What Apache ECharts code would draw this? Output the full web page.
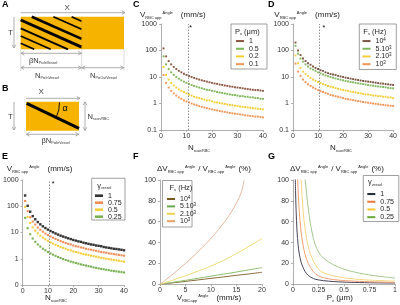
<!DOCTYPE html>
<html>
<head>
<meta charset="utf-8">
<script src="https://cdn.jsdelivr.net/npm/echarts@6/dist/echarts.min.js"></script>
<style>
  html, body { margin: 0; padding: 0; background: #fff; }
  #chart { width: 400px; height: 305px; }
</style>
</head>
<body>
<div id="chart"></div>
<script>
// --- data ---
const nScan = [1,2,3,4,5,6,7,8,9,10,11,12,13,14,15,16,17,18,19,20,21,22,23,24,25,26,27,28,29,30,31,32,33,34,35,36,37,38,39,40]

// panel C : pixel size
const cP1 = [120,60,40,30,24,20,17.1,15,13.3,12,10.9,10,9.2,8.6,8,7.5,7.1,6.7,6.3,6,5.7,5.5,5.2,5,4.8,4.6,4.4,4.3,4.1,4,3.9,3.75,3.6,3.5,3.4,3.3,3.2,3.2,3.1,3]
const cP05 = [60,30,20,15,12,10,8.6,7.5,6.7,6,5.5,5,4.6,4.3,4,3.75,3.5,3.3,3.2,3,2.9,2.7,2.6,2.5,2.4,2.3,2.2,2.1,2.1,2,1.9,1.9,1.8,1.8,1.7,1.7,1.6,1.6,1.5,1.5]
const cP02 = [24,12,8,6,4.8,4,3.4,3,2.7,2.4,2.2,2,1.8,1.7,1.6,1.5,1.4,1.3,1.3,1.2,1.1,1.1,1.04,1,0.96,0.92,0.89,0.86,0.83,0.8,0.77,0.75,0.73,0.71,0.69,0.67,0.65,0.63,0.62,0.6]
const cP01 = [12,6,4,3,2.4,2,1.7,1.5,1.3,1.2,1.1,1,0.92,0.86,0.8,0.75,0.71,0.67,0.63,0.6,0.57,0.55,0.52,0.5,0.48,0.46,0.44,0.43,0.41,0.4,0.39,0.38,0.36,0.35,0.34,0.33,0.32,0.32,0.31,0.3]

// panel D : scan frequency
const dF1e4 = [200,100,67,50,40,33,29,25,22,20,18,17,15,14,13,12.5,12,11,10.5,10,9.5,9.1,8.7,8.3,8,7.7,7.4,7.1,6.9,6.7,6.5,6.3,6.1,5.9,5.7,5.6,5.4,5.3,5.1,5]
const dF5e3 = [150,75,50,38,30,25,21,19,17,15,13.6,12.5,11.5,10.7,10,9.4,8.8,8.3,7.9,7.5,7.1,6.8,6.5,6.3,6,5.8,5.6,5.4,5.2,5,4.8,4.7,4.5,4.4,4.3,4.2,4.1,3.9,3.8,3.75]
const dF2e3 = [65,33,22,16,13,11,9.3,8.1,7.2,6.5,5.9,5.4,5,4.6,4.3,4.1,3.8,3.6,3.4,3.25,3.1,3,2.8,2.7,2.6,2.5,2.4,2.3,2.2,2.2,2.1,2,2,1.9,1.9,1.8,1.8,1.7,1.7,1.6]
const dF1e3 = [32,16,11,8,6.4,5.3,4.6,4,3.6,3.2,2.9,2.7,2.5,2.3,2.1,2,1.9,1.8,1.7,1.6,1.5,1.45,1.4,1.33,1.28,1.23,1.19,1.14,1.1,1.07,1.03,1,0.97,0.94,0.91,0.89,0.86,0.84,0.82,0.8]

// panel E : vessel fraction
const eG1 = [257,104,62,42,32,25,20.5,17.2,14.8,12.9,11.4,10.2,9.2,8.3,7.6,7,6.5,6,5.6,5.2,4.9,4.6,4.4,4.1,3.9,3.7,3.5,3.4,3.2,3.1,3,2.8,2.7,2.6,2.5,2.4,2.35,2.27,2.2,2.1]
const eG075 = [159,65,38,26,20,15.5,12.7,10.7,9.1,8,7,6.3,5.7,5.2,4.7,4.3,4,3.7,3.5,3.2,3,2.9,2.7,2.6,2.4,2.3,2.2,2.1,2,1.9,1.8,1.75,1.7,1.6,1.56,1.5,1.45,1.4,1.36,1.31]
const eG05 = [95,39,23,15.7,11.7,9.3,7.6,6.4,5.5,4.8,4.2,3.8,3.4,3.1,2.8,2.6,2.4,2.2,2.1,1.9,1.8,1.7,1.6,1.5,1.45,1.38,1.31,1.25,1.2,1.14,1.09,1.05,1,0.97,0.93,0.9,0.87,0.84,0.81,0.78]
const eG025 = [36,14.6,8.6,5.9,4.4,3.5,2.9,2.4,2.1,1.8,1.6,1.43,1.29,1.17,1.07,0.98,0.9,0.84,0.78,0.73,0.69,0.65,0.61,0.58,0.55,0.52,0.5,0.47,0.45,0.43,0.41,0.4,0.38,0.37,0.35,0.34,0.33,0.32,0.31,0.3]

// panel F : relative error vs velocity
const fV = [0,2.5,5,7.5,10,12.5,15,17.5,20]
const fF1e4 = [0,1.4,2.8,4.2,5.7,7.1,8.6,10,11.5]
const fF5e3 = [0,1.9,3.8,5.8,7.8,9.8,11.8,13.9,16]
const fF2e3 = [0,4,8.3,12.7,17.5,23,29.5,36.5,44]
const fV1e3 = [0,1,2,3,4,5,6,7,8,9,10,11,12,13,14,15,16,16.5]
const fF1e3 = [0,3.8,7.7,11.7,15.8,20,24.4,29,33.8,38.8,44,49.7,55.7,62.2,69.5,78,89,100]

// panel G : relative error vs pixel size
const gP = [0.02,0.025,0.03,0.04,0.05,0.06,0.08,0.1,0.12,0.15,0.2,0.25,0.3,0.4,0.5,0.6,0.7,0.8,0.9,1]
const gG1 = [115,90,72,50,38,30,21,16,12,8.5,5.5,4.2,3.5,2.6,2.1,1.8,1.6,1.4,1.3,1.2]
const gG075 = [250,200,160,115,90,72,50,37,28,20,12,8,6.3,4.5,3.6,3,2.6,2.3,2.1,1.9]
const gG05 = [500,400,330,240,185,150,100,70,52,36,22,14.5,11,8,6.2,5.1,4.3,3.8,3.4,3]
const gG025 = [600,480,400,300,240,200,150,120,100,72,44,31,25,18.5,14.5,11.8,9.8,8.3,7,6]

const FONT = "'Liberation Sans', Arial, sans-serif"
const NARROW = "'Liberation Sans Narrow', 'Liberation Sans', Arial, sans-serif"
const ORANGE_BOX = '#f6b400'
const GREY = '#9a9a9a'

const chart = echarts.init(document.getElementById('chart'), null, { renderer: 'canvas' })

// --- axes ---
function xAx(gi, max, interval) {
  return {
    type: 'value', gridIndex: gi, min: 0, max: max, interval: interval,
    axisLine: { show: true, onZero: false, lineStyle: { color: GREY, width: 0.8 } },
    axisTick: { show: true, length: 2, lineStyle: { color: GREY, width: 0.8 } },
    splitLine: { show: false },
    axisLabel: { fontSize: 7, color: '#333', margin: 2.5, fontFamily: NARROW }
  }
}
function yLog(gi, fmt) {
  return {
    type: 'log', logBase: 10, gridIndex: gi, min: 0.1, max: 1000,
    axisLine: { show: true, onZero: false, lineStyle: { color: GREY, width: 0.8 } },
    axisTick: { show: true, length: 2, lineStyle: { color: GREY, width: 0.8 } },
    splitLine: { show: false },
    axisLabel: {
      fontSize: 7, color: '#333', margin: 4, fontFamily: NARROW,
      formatter: fmt || (v => (v < 0.5 ? '0.1' : String(Math.round(v))))
    }
  }
}
function yLin(gi) {
  return {
    type: 'value', gridIndex: gi, min: 0, max: 100, interval: 20,
    axisLine: { show: true, onZero: false, lineStyle: { color: GREY, width: 0.8 } },
    axisTick: { show: true, length: 2, lineStyle: { color: GREY, width: 0.8 } },
    splitLine: { show: false },
    axisLabel: { fontSize: 7, color: '#333', margin: 4, fontFamily: NARROW }
  }
}

// --- series helpers ---
function dots(name, gi, vals, color, size) {
  return {
    type: 'scatter', name: name, xAxisIndex: gi, yAxisIndex: gi, silent: true,
    symbol: 'rect', symbolSize: size || 1.9,
    itemStyle: { color: color },
    data: nScan.map((n, i) => [n, vals[i]])
  }
}
function curve(name, gi, xs, vals, color, pale) {
  return {
    type: 'line', name: name, xAxisIndex: gi, yAxisIndex: gi, silent: true,
    showSymbol: false, smooth: 0.35, clip: true,
    itemStyle: { color: color },
    lineStyle: { color: pale, width: 1 },
    data: xs.map((x, i) => [x, vals[i]])
  }
}
function guide(s, star) {
  s.markLine = {
    silent: true, symbol: 'none', label: { show: false },
    lineStyle: { type: [1.5, 1.5], color: '#777', width: 0.8 },
    data: [{ xAxis: 10.6 }]
  }
  s.markPoint = {
    silent: true, symbol: 'circle', symbolSize: 1,
    itemStyle: { color: 'rgba(0,0,0,0)' },
    label: { show: true, formatter: '*', fontSize: 7, color: '#000', fontFamily: FONT },
    data: [{ coord: star }]
  }
  return s
}

const sC = guide(dots('C#1', 0, cP1, '#6e2c12'), [11.6, 700])
const sD = guide(dots('D#10{sup|4}', 1, dF1e4, '#5a2a14'), [12.3, 680])
const sE = guide(dots('E#1', 2, eG1, '#000000', 2.4), [12, 720])

const series = [
  sC,
  dots('C#0.5', 0, cP05, '#5ea22e'),
  dots('C#0.2', 0, cP02, '#f4c300'),
  dots('C#0.1', 0, cP01, '#ef7d2d'),
  sD,
  dots('D#5.10{sup|3}', 1, dF5e3, '#62a53a'),
  dots('D#2.10{sup|3}', 1, dF2e3, '#f4c20d'),
  dots('D#10{sup|3}', 1, dF1e3, '#ef7a2f'),
  sE,
  dots('E#0.75', 2, eG075, '#ef7230', 2.1),
  dots('E#0.5', 2, eG05, '#f4c20d', 2.1),
  dots('E#0.25', 2, eG025, '#5a9e2a', 2.1),
  curve('F#10{sup|4}', 3, fV, fF1e4, '#7a5a22', '#8a6a3a'),
  curve('F#5.10{sup|3}', 3, fV, fF5e3, '#6aa84f', '#8cbf6e'),
  curve('F#2.10{sup|3}', 3, fV, fF2e3, '#efd250', '#f0dc78'),
  curve('F#10{sup|3}', 3, fV1e3, fF1e3, '#e8a064', '#e8b8a0'),
  curve('G#1', 4, gP, gG1, '#1e2a36', '#4a4258'),
  curve('G#0.75', 4, gP, gG075, '#ef7a35', '#f0a070'),
  curve('G#0.5', 4, gP, gG05, '#f4c530', '#f5d680'),
  curve('G#0.25', 4, gP, gG025, '#6aa83a', '#a8c890')
]

// --- legends ---
const supRich = {
  sup: { fontSize: 4.5, lineHeight: 5, verticalAlign: 'top', fontFamily: FONT }
}
function leg(prefix, names, left, top, lh, w) {
  return {
    data: names.map(n => prefix + '#' + n),
    left: left, top: top, orient: 'vertical', padding: 0,
    itemGap: 0, itemWidth: 8, itemHeight: w || 2, icon: 'rect',
    selectedMode: false, inactiveColor: '#ccc',
    formatter: n => n.slice(2),
    textStyle: { fontSize: 7, lineHeight: lh, color: '#222', fontFamily: FONT, rich: supRich }
  }
}
const legends = [
  leg('C', ['1', '0.5', '0.2', '0.1'], 236, 37.2, 7.7),
  leg('D', ['10{sup|4}', '5.10{sup|3}', '2.10{sup|3}', '10{sup|3}'], 362.5, 37.2, 7.7),
  leg('E', ['1', '0.75', '0.5', '0.25'], 95, 192.2, 6.7, 2.6),
  leg('F', ['10{sup|4}', '5.10{sup|3}', '2.10{sup|3}', '10{sup|3}'], 167, 195.3, 7.4),
  leg('G', ['1', '0.75', '0.5', '0.25'], 367.3, 190.2, 7.7)
]

// --- text and schematic helpers ---
const rich = {
  sub: { fontSize: 4, lineHeight: 5, verticalAlign: 'bottom', fontFamily: FONT },
  ssub: { fontSize: 3.6, lineHeight: 4.5, verticalAlign: 'bottom', fontFamily: FONT },
  sup: { fontSize: 4, lineHeight: 5, verticalAlign: 'top', fontFamily: FONT, padding: [0, 3, 0, 1] },
  supw: { fontSize: 4, lineHeight: 5, verticalAlign: 'top', fontFamily: FONT, padding: [0, 8, 0, 1] }
}
function txt(x, y, text, size, opts) {
  const o = opts || {}
  return {
    type: 'text', x: x, y: y, z: 10,
    style: {
      text: text, fontSize: size, lineHeight: size + 1, fontFamily: FONT,
      fontWeight: o.bold ? 'bold' : 'normal', fill: o.color || '#222',
      align: o.align || 'left', verticalAlign: 'middle', rich: rich
    }
  }
}
function seg(x1, y1, x2, y2, color, w) {
  return { type: 'line', z: 5, shape: { x1, y1, x2, y2 }, style: { stroke: color || GREY, lineWidth: w || 0.8 } }
}
function head(x, y, ang) {
  const a = 3.2, b = 1.8
  const c = Math.cos(ang), s = Math.sin(ang)
  return {
    type: 'polyline', z: 5,
    shape: { points: [[x - a * c + b * s, y - a * s - b * c], [x, y], [x - a * c - b * s, y - a * s + b * c]] },
    style: { stroke: GREY, lineWidth: 0.8, fill: null }
  }
}
function arrow(x1, y1, x2, y2, both) {
  const ang = Math.atan2(y2 - y1, x2 - x1)
  const out = [seg(x1, y1, x2, y2), head(x2, y2, ang)]
  if (both) out.push(head(x1, y1, ang + Math.PI))
  return out
}
// stripes through the vessel area of panel A
function stripe(c, w) {
  const x0 = 20.7, x1 = 81.7, y0 = 16.7, y1 = 49.3, k = 0.444
  const xa = Math.max(x0, x0 + (y0 - c) / k)
  const xb = Math.min(x1, x0 + (y1 - c) / k)
  return seg(xa, c + k * (xa - x0), xb, c + k * (xb - x0), '#000', w)
}

const graphics = [
  // panel letters
  txt(2, 5, 'A', 9, { bold: true, color: '#000' }),
  txt(2, 89, 'B', 9, { bold: true, color: '#000' }),
  txt(133, 5, 'C', 9, { bold: true, color: '#000' }),
  txt(268, 5, 'D', 9, { bold: true, color: '#000' }),
  txt(2, 157, 'E', 9, { bold: true, color: '#000' }),
  txt(133, 157, 'F', 9, { bold: true, color: '#000' }),
  txt(268, 157, 'G', 9, { bold: true, color: '#000' }),

  // panel A
  { type: 'rect', z: 1, shape: { x: 20.7, y: 16.7, width: 103.3, height: 32.6 }, style: { fill: ORANGE_BOX } },
  stripe(-5.9, 1.6), stripe(2.2, 1.8), stripe(11.8, 2.6), stripe(20, 3), stripe(28.3, 2), stripe(36, 1.8), stripe(43.3, 1.6),
  seg(81.7, 16.7, 81.7, 49.3, '#e0a000', 0.5),
  ...arrow(20.7, 12.7, 125, 12.7),
  txt(64.5, 8, 'X', 8, { color: '#444' }),
  ...arrow(14, 17, 14, 48),
  txt(8, 32.7, 'T', 8, { color: '#444' }),
  seg(20.7, 49.3, 20.7, 71, '#c8c8c8', 0.6),
  seg(81.7, 49.3, 81.7, 71, '#c8c8c8', 0.6),
  seg(124, 49.3, 124, 71, '#c8c8c8', 0.6),
  ...arrow(21, 53.3, 81.4, 53.3, true),
  txt(29, 61, 'βN{ssub|PixInVessel}', 7.5, { color: '#333' }),
  ...arrow(21, 67.7, 81.4, 67.7, true),
  ...arrow(82, 67.7, 123.7, 67.7, true),
  txt(35, 76, 'N{ssub|PixInVessel}', 7.5, { color: '#333' }),
  txt(90, 76, 'N{ssub|PixOutVessel}', 7.5, { color: '#333' }),

  // panel B
  { type: 'rect', z: 1, shape: { x: 26, y: 101.7, width: 53, height: 29 }, style: { fill: ORANGE_BOX } },
  seg(26.7, 103.3, 79, 128.3, '#000', 3),
  { type: 'arc', z: 6, shape: { cx: 26.5, cy: 103, r: 33, startAngle: -0.02, endAngle: 0.44 }, style: { stroke: '#000', lineWidth: 0.9, fill: null } },
  txt(62.5, 108.5, 'α', 9, { color: '#000' }),
  ...arrow(26, 98.3, 80, 98.3),
  txt(38.5, 92, 'X', 8, { color: '#444' }),
  ...arrow(14, 102, 14, 130),
  txt(8, 117, 'T', 8, { color: '#444' }),
  ...arrow(85, 101.9, 85, 130.5, true),
  txt(87.5, 117, 'N{ssub|scan/RBC}', 7.5, { color: '#333' }),
  ...arrow(26.3, 134.3, 78.7, 134.3, true),
  txt(41.5, 141, 'βN{ssub|PixInVessel}', 7.5, { color: '#333' }),

  // axis titles
  txt(140, 15, 'V{sub|RBC app}{supw|Angle}(mm/s)', 8),
  txt(274.3, 15, 'V{sub|RBC app}{supw|Angle}(mm/s)', 8),
  txt(6.7, 169, 'V{sub|RBC app}{supw|Angle}(mm/s)', 8),
  txt(157, 169, 'ΔV{sub|RBC app}{sup|Angle}/ V{sub|RBC app}{sup|Angle}(%)', 8),
  txt(290, 169, 'ΔV{sub|RBC app}{sup|Angle}/ V{sub|RBC app}{sup|Angle}(%)', 8),
  txt(188, 148, 'N{ssub|scan/RBC}', 8),
  txt(330, 148, 'N{ssub|scan/RBC}', 8),
  txt(45, 298, 'N{ssub|scan/RBC}', 8),
  txt(176.7, 298, 'V{sub|RBCapp}{supw|Angle}(mm/s)', 8),
  txt(326.7, 298, 'P{sub|x} (μm)', 8),

  // legend frames and titles
  { type: 'rect', z: 0, shape: { x: 231, y: 24, width: 36, height: 45 }, style: { fill: '#fff', stroke: '#888', lineWidth: 0.8 } },
  txt(235, 31.7, 'P{sub|x} (μm)', 7.5),
  { type: 'rect', z: 0, shape: { x: 359.3, y: 24, width: 37, height: 45.5 }, style: { fill: '#fff', stroke: '#888', lineWidth: 0.8 } },
  txt(363.3, 31.7, 'F{sub|s} (Hz)', 7.5),
  { type: 'rect', z: 0, shape: { x: 91.7, y: 178.3, width: 33.3, height: 41.7 }, style: { fill: '#fff', stroke: '#888', lineWidth: 0.8 } },
  txt(97.3, 185.5, 'γ{ssub|vessel}', 7.5),
  { type: 'rect', z: 0, shape: { x: 162.5, y: 180.5, width: 29.5, height: 46.5 }, style: { fill: '#fff', stroke: '#888', lineWidth: 0.8 } },
  txt(169.5, 187.5, 'F{sub|s} (Hz)', 7.5),
  { type: 'rect', z: 0, shape: { x: 363.3, y: 175.5, width: 35.5, height: 46 }, style: { fill: '#fff', stroke: '#888', lineWidth: 0.8 } },
  txt(368, 182.3, 'γ{ssub|vessel}', 7.5)
]

const option = {
  animation: false,
  backgroundColor: '#fff',
  textStyle: { fontFamily: FONT },
  grid: [
    { left: 161, top: 24, width: 102, height: 106 },
    { left: 293, top: 24, width: 101, height: 106 },
    { left: 22, top: 180, width: 102, height: 105 },
    { left: 160, top: 180, width: 102, height: 104.3 },
    { left: 293, top: 180, width: 102, height: 104.3 }
  ],
  xAxis: [xAx(0, 40, 10), xAx(1, 40, 10), xAx(2, 40, 10), xAx(3, 20, 5), xAx(4, 1, 0.25)],
  yAxis: [yLog(0), yLog(1), yLog(2, v => (v < 0.5 ? '0' : String(Math.round(v)))), yLin(3), yLin(4)],
  legend: legends,
  series: series,
  graphic: graphics
}

chart.setOption(option)
</script>
</body>
</html>
